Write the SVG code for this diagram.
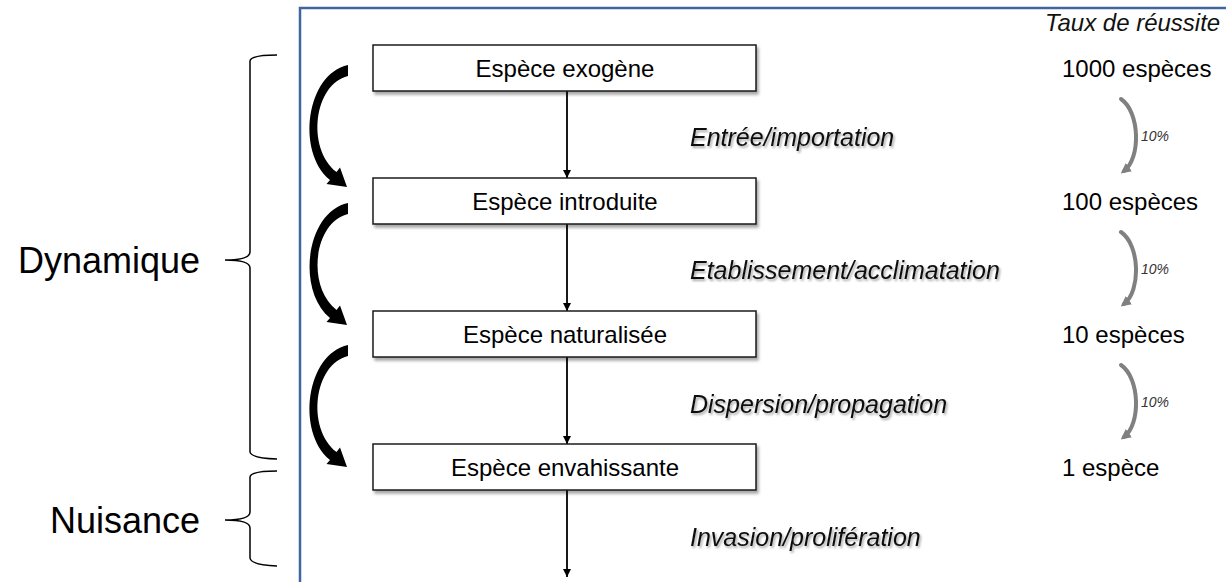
<svg xmlns="http://www.w3.org/2000/svg" width="1226" height="582" viewBox="0 0 1226 582">
  <defs>
    <filter id="boxShadow" x="-5%" y="-20%" width="115%" height="160%">
      <feDropShadow dx="2" dy="3" stdDeviation="1.5" flood-color="#000" flood-opacity="0.35"/>
    </filter>
    <filter id="textShadow" x="-5%" y="-30%" width="115%" height="170%">
      <feDropShadow dx="1.5" dy="2" stdDeviation="1" flood-color="#000" flood-opacity="0.35"/>
    </filter>
    <marker id="ah" viewBox="0 0 10 10" refX="10" refY="5" markerWidth="8" markerHeight="8" orient="auto" markerUnits="userSpaceOnUse">
      <path d="M0,0 L10,5 L0,10 Z" fill="#000"/>
    </marker>
    <marker id="ahg" viewBox="0 0 10 10" refX="6" refY="5" markerWidth="2.6" markerHeight="2.6" orient="auto">
      <path d="M0,0 L10,5 L0,10 Z" fill="#808080"/>
    </marker>
    <path id="bigArrow" d="M348,65 C306,74 296,152 330,180 L326.5,184 L347,187 L340,167.5 L336.5,172 C306,148 314,84 348,76 Z"/>
  </defs>
  <style>
    .box { fill: #fff; stroke: #1a1a1a; stroke-width: 1.5; }
    .lbl { font-family: "Liberation Sans", Arial, sans-serif; font-size: 24px; fill: #000; }
    .ital { font-family: "Liberation Sans", Arial, sans-serif; font-size: 25px; font-style: italic; fill: #111; }
    .cnt { font-family: "Liberation Sans", Arial, sans-serif; font-size: 24px; fill: #000; }
    .pct { font-family: "Liberation Sans", Arial, sans-serif; font-size: 14px; font-style: italic; fill: #333; }
    .big { font-family: "Liberation Sans", Arial, sans-serif; font-size: 36px; fill: #000; }
    .brace { fill: none; stroke: #000; stroke-width: 1.5; }
    .conn { stroke: #000; stroke-width: 1.8; fill: none; }
    .garrow { stroke: #808080; stroke-width: 4; fill: none; stroke-linecap: round; }
  </style>

  <rect width="1226" height="582" fill="#fff"/>

  <!-- frame -->
  <path d="M300,583 V8 H1227" fill="none" stroke="#41659c" stroke-width="2.5"/>

  <!-- braces -->
  <g id="brace-dynamique">
    <path class="brace" d="M277,55 Q251,55 250,61 L250,252 Q250,260 225,260 Q250,260 250,268 L250,452 Q251,458 277,459"/>
    <text class="big" x="200" y="273" text-anchor="end">Dynamique</text>
  </g>
  <g id="brace-nuisance">
    <path class="brace" d="M277,471 Q251,471 250,477 L250,512 Q250,520 225,520 Q250,520 250,528 L250,558 Q251,565 277,566"/>
    <text class="big" x="200" y="533" text-anchor="end">Nuisance</text>
  </g>

  <!-- connectors -->
  <g id="connectors">
    <line class="conn" x1="567" y1="91" x2="567" y2="178" marker-end="url(#ah)"/>
    <line class="conn" x1="567" y1="224" x2="567" y2="311" marker-end="url(#ah)"/>
    <line class="conn" x1="567" y1="357" x2="567" y2="444" marker-end="url(#ah)"/>
    <line class="conn" x1="567" y1="490" x2="567" y2="577" marker-end="url(#ah)"/>
    <use href="#bigArrow" fill="#000"/>
    <use href="#bigArrow" fill="#000" transform="translate(0,138)"/>
    <use href="#bigArrow" fill="#000" transform="translate(0,280)"/>
    <path class="garrow" d="M1121,99 C1140,112 1141,158 1124,171" marker-end="url(#ahg)"/>
    <path class="garrow" d="M1121,232 C1140,245 1141,291 1124,304" marker-end="url(#ahg)"/>
    <path class="garrow" d="M1121,365 C1140,378 1141,424 1124,437" marker-end="url(#ahg)"/>
  </g>

  <!-- nodes -->
  <g id="node-exogene">
    <rect class="box" x="373" y="45" width="383" height="46" filter="url(#boxShadow)"/>
    <text class="lbl" x="565" y="77" text-anchor="middle">Espèce exogène</text>
  </g>
  <g id="node-introduite">
    <rect class="box" x="373" y="178" width="383" height="46" filter="url(#boxShadow)"/>
    <text class="lbl" x="565" y="210" text-anchor="middle">Espèce introduite</text>
  </g>
  <g id="node-naturalisee">
    <rect class="box" x="373" y="311" width="383" height="46" filter="url(#boxShadow)"/>
    <text class="lbl" x="565" y="343" text-anchor="middle">Espèce naturalisée</text>
  </g>
  <g id="node-envahissante">
    <rect class="box" x="373" y="444" width="383" height="46" filter="url(#boxShadow)"/>
    <text class="lbl" x="565" y="476" text-anchor="middle">Espèce envahissante</text>
  </g>

  <!-- step labels -->
  <g id="step-labels" filter="url(#textShadow)">
    <text class="ital" x="690" y="146">Entrée/importation</text>
    <text class="ital" x="690" y="279">Etablissement/acclimatation</text>
    <text class="ital" x="690" y="413">Dispersion/propagation</text>
    <text class="ital" x="690" y="546">Invasion/prolifération</text>
  </g>

  <!-- success rate -->
  <g id="success-rate">
    <text class="ital" style="font-size:24px" x="1045" y="31">Taux de réussite</text>
    <text class="cnt" x="1062" y="77">1000 espèces</text>
    <text class="cnt" x="1062" y="210">100 espèces</text>
    <text class="cnt" x="1062" y="343">10 espèces</text>
    <text class="cnt" x="1062" y="476">1 espèce</text>
    <text class="pct" x="1141" y="141">10%</text>
    <text class="pct" x="1141" y="274">10%</text>
    <text class="pct" x="1141" y="407">10%</text>
  </g>
</svg>
